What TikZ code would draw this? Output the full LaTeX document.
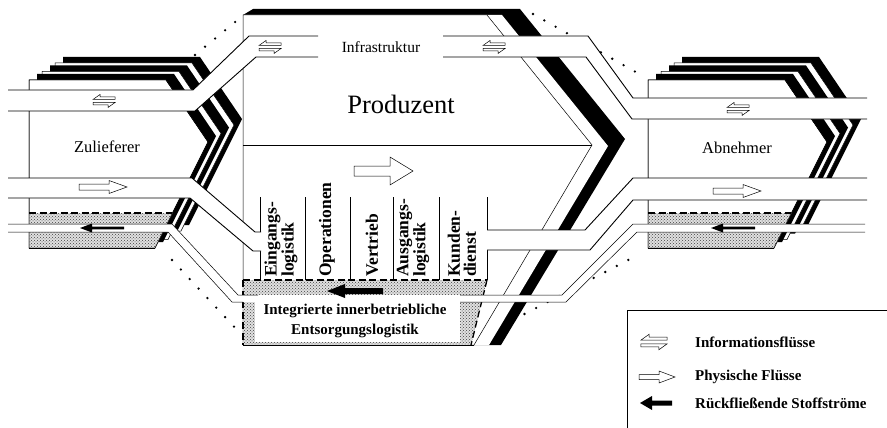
\documentclass[tikz,border=0pt]{standalone}
\usepackage{fontspec}
\setmainfont{Liberation Serif}
\usetikzlibrary{patterns}
\newcommand\firmblock{%
  \pic at (55,63) {slab};
  \pic at (42,71.5) {slab};
  \pic at (29,80) {slab};
  \begin{scope}
    \clip (29,80) -- (166,80) -- (208,142) -- (155,248) -- (29,248) -- cycle;
    \path[stipple] (29,213) rectangle (215,248);
  \end{scope}
  \draw[dashline] (29,213) -- (172,213);
  \draw[thinedge] (29,80) -- (166,80) -- (208,142) -- (155,248) -- (29,248) -- cycle;
  \draw[edge] (29,248) -- (155,248);
}
\begin{document}
\begin{tikzpicture}[x=1pt,y=-1pt,line join=miter,
  edge/.style={line width=0.9pt},
  thinedge/.style={line width=0.5pt},
  stipple/.style={preaction={fill=black!12},pattern=crosshatch dots,pattern color=black!75},
  envdots/.style={line width=2.6pt,line cap=round,dash pattern=on 0pt off 13pt},
  dashline/.style={line width=1.3pt,dash pattern=on 7pt off 3.5pt},
  pics/slab/.style={code={
    \fill[black] (8,-6) -- (145,-6) -- (187,56) -- (134,162) -- (8,162) -- cycle;
    \draw[line width=0.5pt,fill=white] (0,0) -- (137,0) -- (179,62) -- (126,168) -- (0,168) -- cycle;}},
  pics/infoarr/.style={code={
    \draw[line width=0.5pt,fill=white] (11,-1.5) -- (-11,-1.5) -- (-4,-6.5) -- (-4,-4) -- (11,-4) -- cycle;
    \draw[line width=0.5pt,fill=white] (-11,1.5) -- (11,1.5) -- (4,6.5) -- (4,4) -- (-11,4) -- cycle;}},
  pics/physarr/.style={code={
    \draw[line width=0.5pt,fill=white] (-24,-3) -- (6,-3) -- (6,-6.5) -- (24,0) -- (6,6.5) -- (6,3) -- (-24,3) -- cycle;}},
  pics/physbig/.style={code={
    \draw[line width=0.5pt,fill=white] (-30,-5) -- (6,-5) -- (6,-14) -- (29,0) -- (6,14) -- (6,5) -- (-30,5) -- cycle;}},
  pics/physleg/.style={code={
    \draw[line width=0.5pt,fill=white] (-18,-2.5) -- (2,-2.5) -- (2,-6) -- (18,0) -- (2,6) -- (2,2.5) -- (-18,2.5) -- cycle;}},
  pics/retarr/.style={code={
    \fill (22,-1.3) -- (-10,-1.3) -- (-10,-4.5) -- (-22,0) -- (-10,4.5) -- (-10,1.3) -- (22,1.3) -- cycle;}},
  pics/retbig/.style={code={
    \fill (28,-3) -- (-10,-3) -- (-10,-7) -- (-28,0) -- (-10,7) -- (-10,3) -- (28,3) -- cycle;}},
  pics/retleg/.style={code={
    \fill (16,-2.5) -- (-4,-2.5) -- (-4,-7) -- (-16,0) -- (-4,7) -- (-4,2.5) -- (16,2.5) -- cycle;}},
  collabel/.style={rotate=90,anchor=west,inner sep=0pt,align=left,font=\bfseries\fontsize{17.5}{16}\selectfont},
  legtext/.style={anchor=west,inner sep=0pt,font=\bfseries\fontsize{15}{17}\selectfont}
]
\useasboundingbox (0,0) rectangle (887,428);
\fill[white] (0,0) rectangle (887,428);

% dotted envelope
\draw[envdots] (195,55) -- (240,18);
\draw[envdots] (533,14) -- (641,75);
\draw[envdots] (172,260) -- (238,331);
\draw[envdots] (513,320) -- (634,257);

% producer slab
\fill[black] (243,15) -- (253,9) -- (520,9) -- (625,139) -- (501,345) -- (243,345) -- cycle;
\fill[white] (243,15) -- (502,15) -- (608,146) -- (489,345) -- (243,345) -- cycle;
\draw[thinedge,fill=white] (243,15) -- (487,15) -- (592,145) -- (474,345) -- (243,345) -- cycle;
\draw[thinedge] (243,145) -- (592,145);

% internal disposal area
\path[stipple] (243,280) -- (487,280) -- (471,345) -- (243,345) -- cycle;
\fill[white] (255,295) rectangle (460,342);
\draw[dashline] (243,280) -- (487,280);
\draw[dashline] (243,280) -- (243,345);
\draw[dashline] (487,280) -- (471,345);
\draw[edge] (243,345) -- (474,345);
\foreach \cx in {260,305,350,393,439,487} \draw[thinedge] (\cx,197) -- (\cx,280);

% supplier and customer
\firmblock
\begin{scope}[xshift=619pt]\firmblock\end{scope}

% road A (information / infrastructure)
\fill[white] (8,90) -- (193,90) -- (249,36) -- (588,36) -- (633,98) -- (867,98) -- (867,119) -- (632,119) -- (586,57) -- (256,57) -- (195,111) -- (8,111) -- cycle;
\draw[edge] (8,90) -- (193,90) -- (249,36) -- (318,36);
\draw[edge] (443,36) -- (588,36) -- (633,98) -- (867,98);
\draw[edge] (8,111) -- (195,111) -- (256,57) -- (318,57);
\draw[edge] (443,57) -- (586,57) -- (632,119) -- (867,119);

% road B (physical flows)
\fill[white] (8,178) -- (192,178) -- (255,232) -- (261,232) -- (261,251) -- (253,251) -- (190,198) -- (8,198) -- cycle;
\draw[edge] (8,178) -- (192,178) -- (255,232) -- (261,232);
\draw[edge] (8,198) -- (190,198) -- (253,251) -- (261,251);
\fill[white] (487,230) -- (585,230) -- (633,178) -- (867,178) -- (867,200) -- (633,200) -- (590,250) -- (487,250) -- cycle;
\draw[edge] (487,230) -- (585,230) -- (633,178) -- (867,178);
\draw[edge] (487,250) -- (590,250) -- (633,200) -- (867,200);

% road C (return flows)
\fill[white] (8,224) -- (172,224) -- (238,295) -- (256,295) -- (256,302) -- (232,302) -- (168,232) -- (8,232) -- cycle;
\draw[thinedge] (8,224) -- (172,224) -- (238,295) -- (258,295);
\draw[thinedge] (8,232) -- (168,232) -- (232,302) -- (243,302);
\fill[white] (459,295) -- (562,295) -- (633,224) -- (865,224) -- (865,232) -- (637,232) -- (566,302) -- (459,302) -- cycle;
\draw[thinedge] (460,295) -- (562,295) -- (633,224) -- (865,224);
\draw[thinedge] (460,302) -- (566,302) -- (637,232) -- (865,232);

% flow symbols
\pic at (104,101) {infoarr};
\pic at (270,47) {infoarr};
\pic at (494,47) {infoarr};
\pic at (738,109) {infoarr};
\pic at (103,187) {physarr};
\pic at (737,191) {physarr};
\pic at (384,171) {physbig};
\pic at (102,228) {retarr};
\pic at (733,228) {retarr};
\pic at (355,291) {retbig};

% labels
\node[inner sep=0pt,font=\fontsize{26.5}{30}\selectfont] (prod) at (401,104) {Produzent};
\node[inner sep=0pt,font=\fontsize{16.5}{18}\selectfont] (zul) at (107,147) {Zulieferer};
\node[inner sep=0pt,font=\fontsize{16.5}{18}\selectfont] (abn) at (737,148) {Abnehmer};
\node[inner sep=0pt,font=\fontsize{15.5}{17}\selectfont] (infra) at (381,47) {Infrastruktur};
\node[collabel] (c1) at (281,277) {Eingangs-\\logistik};
\node[collabel] (c2) at (327,277) {Operationen};
\node[collabel] (c3) at (372,277) {Vertrieb};
\node[collabel] (c4) at (413,277) {Ausgangs-\\logistik};
\node[collabel] (c5) at (462,277) {Kunden-\\dienst};
\node[inner sep=0pt,align=center,font=\bfseries\fontsize{15}{20}\selectfont] (ents) at (355,321) {Integrierte innerbetriebliche\\Entsorgungslogistik};

% legend
\draw[thinedge] (627,428) -- (627,310) -- (887,310);
\pic[scale=1.2] at (654,342) {infoarr};
\pic at (657,377) {physleg};
\pic at (656,403) {retleg};
\node[legtext] (l1) at (695,342) {Informationsflüsse};
\node[legtext] (l2) at (695,377) {Physische Flüsse};
\node[legtext] (l3) at (695,403) {Rückfließende Stoffströme};
\end{tikzpicture}
\end{document}
